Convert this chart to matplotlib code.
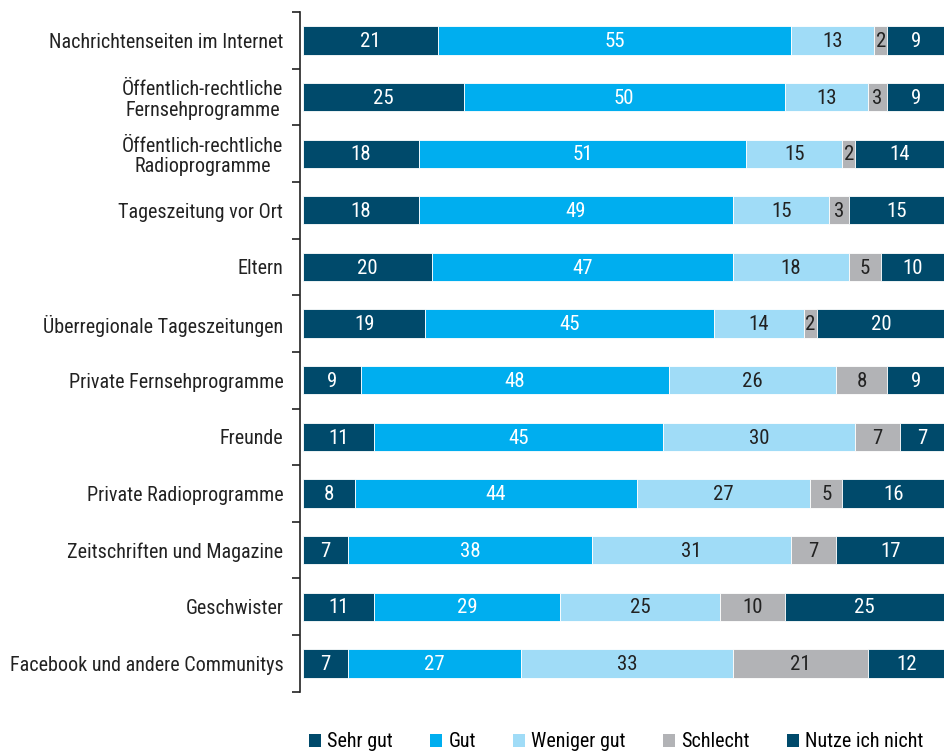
import matplotlib.pyplot as plt
from matplotlib.patches import Patch
from matplotlib import font_manager
import numpy as np

kategorien = [
    "Nachrichtenseiten im Internet",
    "Öffentlich-rechtliche\nFernsehprogramme",
    "Öffentlich-rechtliche\nRadioprogramme",
    "Tageszeitung vor Ort",
    "Eltern",
    "Überregionale Tageszeitungen",
    "Private Fernsehprogramme",
    "Freunde",
    "Private Radioprogramme",
    "Zeitschriften und Magazine",
    "Geschwister",
    "Facebook und andere Communitys",
]
sehr_gut = [21, 25, 18, 18, 20, 19, 9, 11, 8, 7, 11, 7]
gut = [55, 50, 51, 49, 47, 45, 48, 45, 44, 38, 29, 27]
weniger_gut = [13, 13, 15, 15, 18, 14, 26, 30, 27, 31, 25, 33]
schlecht = [2, 3, 2, 3, 5, 2, 8, 7, 5, 7, 10, 21]
nutze_nicht = [9, 9, 14, 15, 10, 20, 9, 7, 16, 17, 25, 12]

serien = ["Sehr gut", "Gut", "Weniger gut", "Schlecht", "Nutze ich nicht"]
farben = ["#004a6b", "#00aeef", "#a0dcf7", "#b2b3b6", "#004a6b"]
textfarben = ["white", "white", "#222222", "#222222", "white"]

namen = {f.name for f in font_manager.fontManager.ttflist}
schrift = "Roboto Condensed" if "Roboto Condensed" in namen else "Roboto"
plt.rcParams['font.family'] = [schrift, 'DejaVu Sans']

fig = plt.figure(figsize=(9.45, 7.56), dpi=100)
ax = fig.add_axes([0.3175, 0.085, 0.6825, 0.899])

y = np.arange(len(kategorien))
links = np.zeros(len(kategorien))
for werte, farbe, tf in zip([sehr_gut, gut, weniger_gut, schlecht, nutze_nicht], farben, textfarben):
    werte = np.array(werte)
    ax.barh(y, werte, left=links, height=0.5, color=farbe, edgecolor="white", linewidth=0.6)
    for yi, l, w in zip(y, links, werte):
        ax.text(l + w / 2, yi + 0.02, str(w), ha="center", va="center", color=tf, fontsize=15)
    links += werte

ax.set_xlim(-0.5, 100)
ax.set_ylim(len(kategorien) - 0.5, -0.5)
ax.set_xticks([])
ax.set_yticks(np.arange(-0.5, len(kategorien), 1))
ax.set_yticklabels([])
ax.set_yticks(y, minor=True)
ax.set_yticklabels(kategorien, minor=True, fontsize=14.5, color="#222222", linespacing=1.1)
for lbl in ax.get_yticklabels(minor=True):
    lbl.set_multialignment("center")
ax.tick_params(axis="y", which="major", length=6, width=1.2, color="#222222")
ax.tick_params(axis="y", which="minor", length=0, pad=12)
for s in ["top", "right", "bottom"]:
    ax.spines[s].set_visible(False)
ax.spines["left"].set_linewidth(1.2)
ax.spines["left"].set_color("#222222")

handles = [Patch(facecolor=f, edgecolor="none") for f in farben]
fig.legend(handles, serien, loc="lower center", bbox_to_anchor=(0.652, -0.018), ncol=5,
           frameon=False, fontsize=14.5, handlelength=0.6, handleheight=0.6,
           handletextpad=0.3, columnspacing=1.85)

fig.savefig("out.png", dpi=100)
